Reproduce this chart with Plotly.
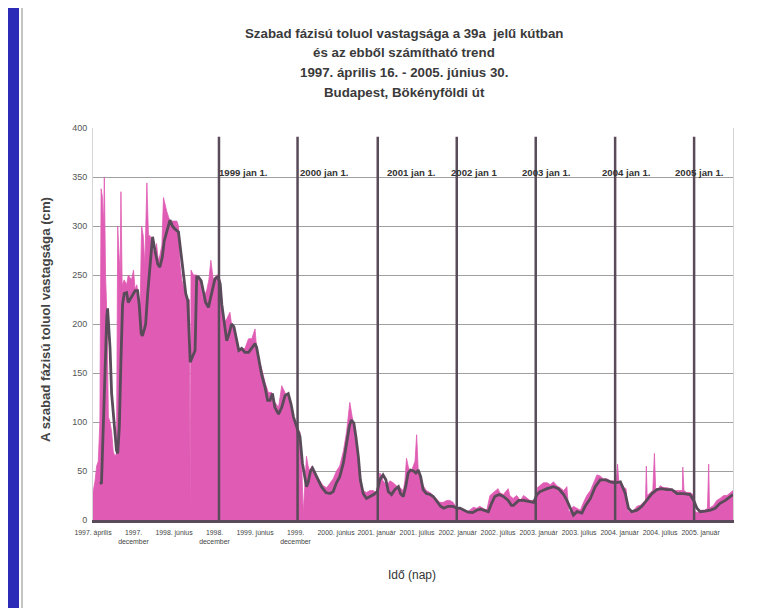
import plotly.graph_objects as go

# ---------------- data ----------------
# x = measurement position along the (category-like) time axis, 100 units per tick label
pink_idx = [0, 1, 5, 9, 13, 17, 20, 23, 26, 28, 31, 35, 38, 42, 46, 50, 54, 58, 61, 63, 67, 69, 72, 77, 83, 87,
            95, 100, 104, 108, 112, 116, 120, 124, 128, 133, 137, 141, 145, 149, 153, 157, 161, 165, 170, 174,
            178, 182, 186, 190, 198, 207, 211, 215, 219, 223, 227, 231, 235, 238, 239, 240, 242, 248, 256, 264,
            272, 281, 286, 291, 297, 305, 309, 314, 322, 330, 338, 342, 351, 359, 367, 375, 384, 392, 400, 404,
            408, 416, 425, 433, 441, 449, 458, 466, 474, 482, 490, 499, 507, 511, 515, 519, 523, 527, 531, 535,
            540, 544, 552, 560, 568, 577, 585, 593, 601, 609, 618, 622, 626, 630, 634, 638, 642, 646, 651, 655,
            659, 663, 667, 675, 684, 692, 698, 704, 708, 712, 716, 725, 733, 741, 749, 758, 766, 770, 774, 778,
            782, 786, 791, 795, 799, 803, 807, 815, 823, 832, 840, 848, 856, 865, 873, 881, 889, 898, 906, 914,
            922, 930, 939, 947, 955, 963, 972, 980, 988, 996, 1000, 1004, 1013, 1021, 1025, 1029, 1037, 1046,
            1051, 1055, 1063, 1071, 1079, 1088, 1094, 1097, 1104, 1112, 1121, 1129, 1137, 1145, 1153, 1162,
            1170, 1174, 1178, 1182, 1186, 1195, 1203, 1211, 1219, 1228, 1236, 1240, 1244, 1252, 1260, 1269,
            1277, 1285, 1292, 1295, 1298, 1306, 1311, 1316, 1320, 1326, 1335, 1343, 1351, 1359, 1364, 1366,
            1368, 1376, 1382, 1386, 1389, 1396, 1400, 1409, 1417, 1425, 1433, 1442, 1450, 1455, 1456, 1459,
            1466, 1474, 1481, 1487, 1495, 1503, 1511, 1517, 1520, 1522, 1532, 1540, 1548, 1557, 1565, 1573, 1580]
pink_val = [28, 30, 40, 55, 60, 100, 338, 330, 300, 350, 250, 200, 105, 100, 90, 70, 65, 68, 300, 280, 250, 335,
            240, 245, 240, 250, 245, 255, 235, 240, 230, 210, 300, 290, 260, 344, 290, 290, 280, 275, 270, 282,
            265, 270, 280, 329, 320, 315, 310, 305, 305, 305, 300, 260, 245, 238, 232, 225, 220, 225, 0, 0, 255,
            250, 250, 245, 225, 235, 245, 265, 245, 250, 250, 245, 200, 205, 212, 200, 190, 175, 175, 175, 185,
            185, 195, 175, 165, 155, 140, 130, 130, 120, 115, 137, 130, 125, 110, 100, 90, 90, 60, 7, 40, 65,
            55, 50, 55, 50, 45, 40, 35, 33, 38, 42, 50, 55, 70, 80, 90, 105, 120, 110, 100, 85, 75, 60, 40, 35,
            30, 28, 30, 30, 28, 35, 48, 45, 40, 35, 40, 38, 35, 33, 30, 40, 63, 55, 50, 50, 55, 60, 87, 50, 45,
            35, 30, 28, 25, 22, 18, 18, 20, 20, 18, 12, 10, 10, 8, 10, 13, 12, 14, 12, 10, 25, 28, 30, 32, 28,
            26, 30, 32, 25, 22, 25, 22, 20, 25, 22, 20, 20, 18, 33, 35, 38, 38, 36, 39, 35, 33, 30, 34, 10, 8,
            12, 14, 12, 10, 18, 25, 30, 38, 42, 46, 45, 42, 42, 40, 40, 40, 57, 40, 37, 33, 32, 10, 8, 10, 14,
            15, 18, 20, 55, 25, 28, 30, 68, 32, 32, 35, 33, 33, 32, 30, 30, 30, 30, 54, 30, 28, 28, 26, 8, 8,
            10, 10, 12, 57, 12, 15, 20, 22, 25, 25, 28, 30]

trend_idx = [17, 21, 34, 36, 42, 46, 53, 58, 61, 65, 69, 73, 77, 83, 87, 95, 104, 110, 114, 119, 122, 127, 130,
             135, 141, 147, 153, 160, 165, 171, 176, 182, 190, 196, 202, 211, 216, 223, 229, 234, 237, 240, 245,
             252, 256, 260, 267, 272, 278, 285, 289, 295, 301, 308, 314, 318, 324, 330, 336, 342, 348, 355, 360,
             367, 375, 384, 392, 400, 404, 410, 416, 425, 431, 437, 443, 449, 458, 466, 474, 482, 489, 495, 503,
             511, 517, 523, 527, 531, 537, 542, 548, 556, 564, 575, 585, 593, 601, 609, 618, 626, 633, 638, 644,
             649, 655, 660, 667, 675, 685, 693, 702, 708, 716, 723, 729, 737, 745, 754, 759, 766, 772, 778, 784,
             791, 797, 803, 809, 815, 823, 832, 840, 848, 858, 866, 877, 889, 898, 906, 916, 926, 937, 947, 957,
             967, 976, 984, 992, 1003, 1013, 1025, 1033, 1038, 1051, 1063, 1075, 1088, 1096, 1104, 1121, 1137,
             1149, 1162, 1170, 1178, 1186, 1195, 1207, 1215, 1228, 1240, 1252, 1265, 1277, 1289, 1302, 1314,
             1322, 1330, 1343, 1355, 1367, 1380, 1392, 1404, 1417, 1429, 1442, 1458, 1474, 1483, 1491, 1499,
             1511, 1524, 1536, 1548, 1561, 1573, 1580]
trend_val = [37, 38, 207, 216, 176, 129, 95, 71, 68, 95, 163, 220, 231, 232, 222, 227, 234, 234, 220, 190, 188,
             195, 200, 231, 265, 289, 275, 261, 258, 268, 285, 294, 306, 300, 297, 294, 275, 251, 231, 224, 197,
             161, 166, 173, 248, 248, 244, 234, 222, 217, 224, 237, 246, 248, 241, 220, 200, 183, 190, 200, 197,
             181, 173, 175, 171, 171, 175, 180, 176, 163, 149, 135, 122, 122, 129, 115, 108, 115, 127, 129, 118,
             105, 94, 85, 58, 41, 34, 38, 50, 53, 48, 41, 34, 28, 27, 29, 38, 44, 58, 78, 96, 102, 99, 85, 65,
             41, 27, 22, 24, 26, 29, 41, 46, 41, 29, 26, 31, 34, 27, 24, 34, 48, 51, 50, 48, 51, 44, 31, 27, 26,
             24, 20, 14, 12, 14, 14, 12, 12, 10, 8, 7.5, 10, 11, 10, 8.5, 17, 24, 26, 24, 20, 15, 15, 20, 20, 19,
             18, 26, 29, 32, 34, 32, 26, 20, 12, 5, 8.5, 7, 14, 22, 34, 41, 41, 39, 38, 39, 27, 12, 8.5, 10, 14,
             20, 27, 31, 32, 31, 31, 27, 27, 26, 20, 12, 8.5, 9, 10, 12, 17, 20, 24, 26]

tick_pos = [0, 100, 200, 300, 400, 500, 600, 700, 800, 900, 1000, 1100, 1200, 1300, 1400, 1500]
tick_text = ["1997. április", "1997.<br>december", "1998. június", "1998.<br>december", "1999. június",
             "1999.<br>december", "2000. június", "2001. január", "2001. július", "2002. január",
             "2002. július", "2003. január", "2003. július", "2004. január", "2004. július", "2005. január"]

year_line_idx = [311, 505, 703, 898, 1093, 1289, 1484]
year_line_top = 391
year_labels = ["1999 jan 1.", "2000 jan 1.", "2001 jan 1.", "2002 jan 1", "2003 jan 1.", "2004 jan 1.",
               "2005 jan 1."]
year_label_idx = [311, 511, 726, 883, 1058, 1256, 1437]

title_lines = ["Szabad fázisú toluol vastagsága a 39a  jelű kútban",
               "és az ebből számítható trend",
               "1997. április 16. - 2005. június 30.",
               "Budapest, Bökényföldi út"]
y_title = "A szabad fázisú toluol vastagsága (cm)"
x_title = "Idő (nap)"

# ---------------- styling ----------------
PINK = "#e05cb4"
DARK = "#594b59"
BLUE = "#2b2bb8"
FONT = "Liberation Sans, Arial, sans-serif"

fig = go.Figure()
fig.add_trace(go.Scatter(x=pink_idx, y=pink_val, mode="lines", fill="tozeroy",
                         line=dict(color=PINK, width=0.8), fillcolor=PINK, hoverinfo="skip"))
vx, vy = [], []
for xv in year_line_idx:
    vx += [xv, xv, None]
    vy += [0, year_line_top, None]
fig.add_trace(go.Scatter(x=vx, y=vy, mode="lines", line=dict(color=DARK, width=2.5), hoverinfo="skip"))
fig.add_trace(go.Scatter(x=trend_idx, y=trend_val, mode="lines", line=dict(color=DARK, width=2.8)))

OFF = 8                      # the page places the figure 8 px from the window edge
W, H = 773 - OFF, 608 - OFF
L, T = 93 - OFF, 128 - OFF
R, B = W - (733 - OFF), H - (520 - OFF)
pw, ph = W - L - R, H - T - B


def px(xr):                  # reference-window x pixel -> paper fraction
    return (xr - OFF - L) / pw


def py(yr):                  # reference-window y pixel -> paper fraction
    return (H - B - (yr - OFF)) / ph


ann = []
for i, line in enumerate(title_lines):
    ann.append(dict(text=line, x=px(404), y=py(33 + i * 19.7), xref="paper", yref="paper", showarrow=False,
                    xanchor="center", yanchor="middle",
                    font=dict(family=FONT, size=13.3, color="#3a3a3a", weight="bold")))
for t, xi in zip(year_labels, year_label_idx):
    ann.append(dict(text=t, x=xi, y=350, xref="x", yref="y", showarrow=False, xanchor="left", yanchor="bottom",
                    xshift=-2, yshift=-3, font=dict(family=FONT, size=9.6, color="#333333", weight="bold")))
ann.append(dict(text=y_title, x=px(45), y=py(320), xref="paper", yref="paper", showarrow=False, textangle=-90,
                xanchor="center", yanchor="middle", font=dict(family=FONT, size=13.2, color="#444444", weight="bold")))
ann.append(dict(text=x_title, x=px(412), y=py(575), xref="paper", yref="paper", showarrow=False,
                xanchor="center", yanchor="middle", font=dict(family=FONT, size=12, color="#333333")))

shapes = [
    dict(type="rect", xref="paper", yref="paper", x0=px(-10), x1=px(19), y0=py(640), y1=py(-10),
         fillcolor=BLUE, line=dict(width=0), layer="above"),
    dict(type="line", xref="paper", yref="paper", x0=px(22), x1=px(22), y0=py(640), y1=py(-10),
         line=dict(color="#8a8a8a", width=1)),
]

fig.update_layout(
    width=W, height=H, margin=dict(l=L, r=R, t=T, b=B),
    paper_bgcolor="white", plot_bgcolor="white", showlegend=False,
    annotations=ann, shapes=shapes,
    xaxis=dict(range=[0, 1580], tickmode="array", tickvals=tick_pos, ticktext=tick_text, showgrid=False,
               zeroline=False, showline=True, linecolor=DARK, linewidth=3, ticks="", ticklabelstandoff=4,
               tickfont=dict(family=FONT, size=6.9, color="#444444"), tickangle=0),
    yaxis=dict(range=[0, 400], tickmode="array", tickvals=list(range(0, 401, 50)), showgrid=True,
               gridcolor="#a0a0a0", gridwidth=1, zeroline=False, showline=True, linecolor="#d5d5d5",
               linewidth=1, mirror=True, ticks="", ticklabelstandoff=3,
               tickfont=dict(family=FONT, size=9, color="#555555")),
)

fig.write_html("out.html")
